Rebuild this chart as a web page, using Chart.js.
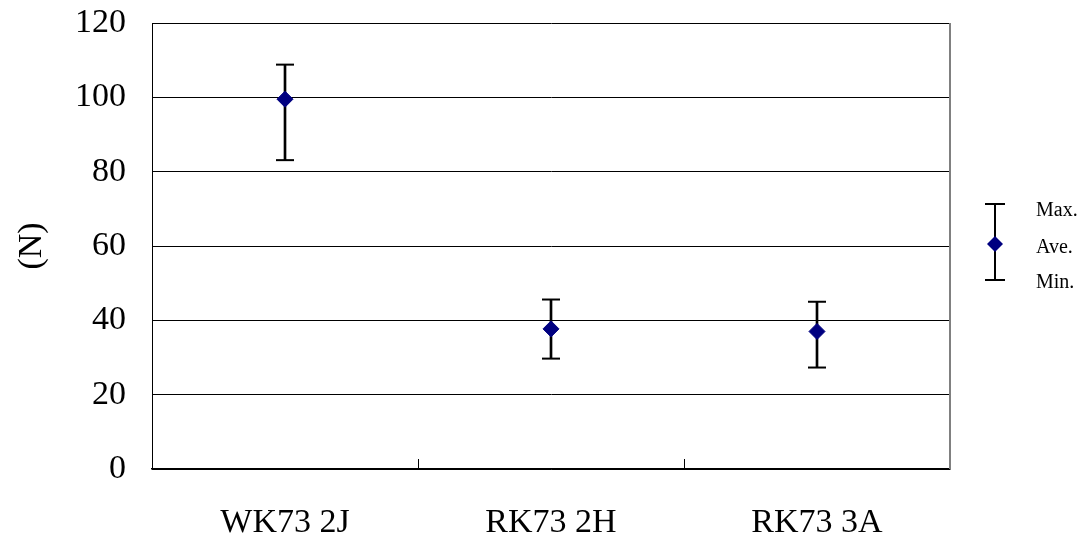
<!DOCTYPE html>
<html>
<head>
<meta charset="utf-8">
<script src="https://cdn.jsdelivr.net/npm/chart.js@4"></script>
<style>
  html, body { margin: 0; padding: 0; background: #fff; }
  #wrap { position: relative; width: 1086px; height: 542px; }
  #legend { position: absolute; left: 980px; top: 196px; width: 106px; height: 100px;
            font-family: "Liberation Serif", "Times New Roman", serif; font-size: 20px; color: #000; }
  #legend svg { position: absolute; left: 0; top: 0; }
  #legend span { position: absolute; left: 56px; line-height: 24px; }
</style>
</head>
<body>
<div id="wrap">
  <canvas id="c" width="1086" height="542"></canvas>
  <div id="legend">
    <svg width="40" height="100" viewBox="0 0 40 100">
      <line x1="15" y1="8" x2="15" y2="84" stroke="#000" stroke-width="2"/>
      <line x1="5" y1="8" x2="25" y2="8" stroke="#000" stroke-width="2"/>
      <line x1="5" y1="84" x2="25" y2="84" stroke="#000" stroke-width="2"/>
      <polygon points="7,48 15,40 23,48 15,56" fill="#000080"/>
    </svg>
    <span style="top:1px">Max.</span>
    <span style="top:38px">Ave.</span>
    <span style="top:73px">Min.</span>
  </div>
</div>
<script>
const categories = ["WK73 2J", "RK73 2H", "RK73 3A"];
const maxValues = [108.8, 45.6, 45.0];
const aveValues = [99.5, 37.7, 37.0];
const minValues = [83.1, 29.7, 27.3];
const yTicks = [0, 20, 40, 60, 80, 100, 120];
const yTitle = "(N)";

const serif = "'Liberation Serif', 'Times New Roman', serif";

const extrasPlugin = {
  id: 'extras',
  afterDraw(chart) {
    const ctx = chart.ctx;
    const xs = chart.scales.x;
    const area = chart.chartArea;
    ctx.save();
    ctx.strokeStyle = '#000';
    ctx.lineWidth = 1;
    for (let i = 1; i < categories.length; i++) {
      const x = Math.round((xs.getPixelForValue(i - 1) + xs.getPixelForValue(i)) / 2) + 0.5;
      ctx.beginPath();
      ctx.moveTo(x, area.bottom - 10);
      ctx.lineTo(x, area.bottom);
      ctx.stroke();
    }
    ctx.strokeStyle = '#808080';
    ctx.lineWidth = 2;
    ctx.beginPath();
    ctx.moveTo(area.right, area.top);
    ctx.lineTo(area.right, area.bottom);
    ctx.stroke();
    ctx.restore();
  }
};

const barData = minValues.map((v, i) => [v, maxValues[i]]);

new Chart(document.getElementById('c'), {
  data: {
    labels: categories,
    datasets: [
      { type: 'line', label: 'Ave.', data: aveValues, showLine: false, order: 0,
        pointStyle: 'rectRot', pointRadius: 8, pointBackgroundColor: '#000080',
        pointBorderColor: '#000080', pointBorderWidth: 1 },
      { type: 'line', label: 'Max.', data: maxValues, showLine: false, order: 1,
        pointStyle: 'line', pointRadius: 9, pointBorderColor: '#000', pointBorderWidth: 2 },
      { type: 'line', label: 'Min.', data: minValues, showLine: false, order: 1,
        pointStyle: 'line', pointRadius: 9, pointBorderColor: '#000', pointBorderWidth: 2 },
      { type: 'bar', label: 'range', data: barData, order: 2,
        backgroundColor: '#000', borderWidth: 0, barThickness: 2 }
    ]
  },
  options: {
    responsive: false,
    animation: false,
    events: [],
    layout: { padding: { left: 0, right: 136, top: 23, bottom: 0 } },
    plugins: { legend: { display: false }, tooltip: { enabled: false } },
    scales: {
      x: {
        type: 'category',
        offset: true,
        grid: { display: false, drawTicks: false },
        border: { display: true, color: '#000', width: 1.5 },
        ticks: { color: '#000', font: { family: serif, size: 34 }, padding: 34, maxRotation: 0 },
        afterFit(scale) { scale.height = 73; scale.paddingLeft = 0; scale.paddingRight = 0; }
      },
      y: {
        min: 0, max: 120,
        afterBuildTicks(scale) { scale.ticks = yTicks.map(v => ({ value: v })); },
        grid: { color: '#000', lineWidth: 1, drawTicks: false },
        border: { display: true, color: '#000', width: 1 },
        ticks: { color: '#000', font: { family: serif, size: 34 }, padding: 26 },
        title: { display: true, text: yTitle, color: '#000', font: { family: serif, size: 34 },
                 padding: { top: 12, bottom: 0 } },
        afterFit(scale) { scale.width = 152; scale.paddingTop = 0; scale.paddingBottom = 0; }
      }
    }
  },
  plugins: [extrasPlugin]
});
</script>
</body>
</html>
